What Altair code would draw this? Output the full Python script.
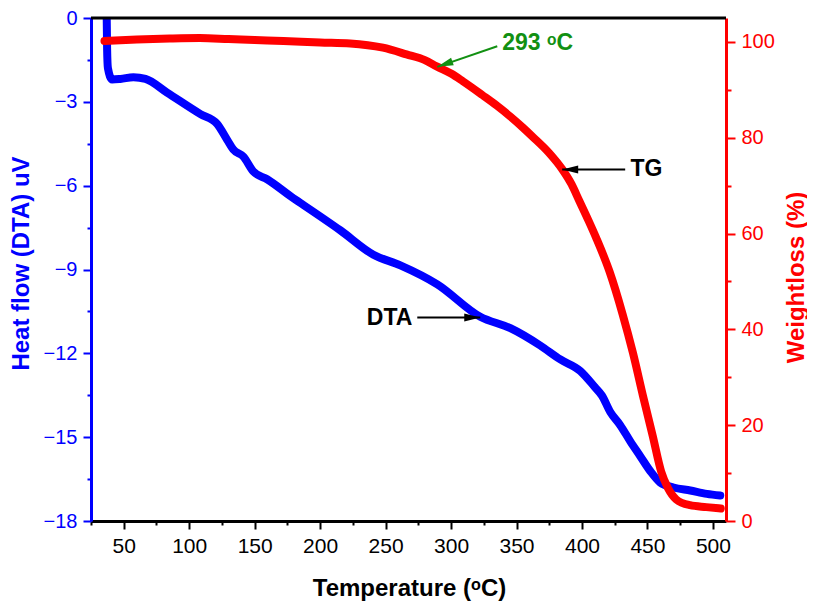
import altair as alt
import pandas as pd

# ---- DTA (heat flow) curve ----
dta_temp = [37.0, 37.3, 37.9, 41.1, 47.5, 57.4, 66.6, 83.1, 108.6, 121.3, 129.0, 133.7,
            141.4, 148.9, 159.5, 179.6, 185.0, 215.5, 240.7, 261.3, 289.5, 322.3, 345.3,
            368.1, 383.5, 398.7, 410.0, 415.2, 421.6, 429.2, 436.9, 444.5, 452.1, 459.7,
            469.9, 482.7, 495.4, 505.6]
dta_heat = [0.0, -1.09, -1.79, -2.20, -2.18, -2.12, -2.18, -2.67, -3.44, -3.79, -4.36, -4.71,
            -4.96, -5.49, -5.77, -6.45, -6.62, -7.60, -8.47, -8.85, -9.53, -10.69, -11.10,
            -11.72, -12.22, -12.63, -13.22, -13.51, -14.10, -14.57, -15.15, -15.68, -16.21, -16.62,
            -16.80, -16.91, -17.03, -17.09]

# ---- TG (weight) curve ----
tg_temp = [35.3, 60, 85, 108, 130, 150, 172, 200, 223, 248, 266, 280, 289, 300, 309, 324,
           335, 345, 355, 362, 375, 385, 392, 398, 405, 411, 421, 431, 439, 446.6, 454,
           460.5, 465.7, 472, 482.5, 495, 506]
tg_weight = [100.2, 100.5, 100.7, 100.8, 100.6, 100.4, 100.2, 99.9, 99.7, 98.8, 97.4, 96.2,
             94.9, 93.4, 91.8, 88.9, 86.7, 84.5, 82.1, 80.3, 76.8, 73.4, 70.3, 66.8, 62.7,
             59.0, 52.1, 43.2, 35.0, 26.1, 17.8, 10.3, 6.85, 4.5, 3.3, 2.9, 2.6]

# ---- axis tick values ----
x_major = list(range(50, 501, 50))
x_minor = list(range(25, 501, 50))
left_major = list(range(-18, 1, 3))
left_minor = [-16.5, -13.5, -10.5, -7.5, -4.5, -1.5]
right_major = list(range(0, 101, 20))
right_minor = list(range(10, 101, 20))

# ---- annotations (data units) ----
dta_note = {"label": "DTA", "tx": 270.5, "ty": -10.72, "x1": 274.2, "x2": 322.3, "y1": -10.72, "y2": -10.72}
tg_note = {"label": "TG", "tx": 437.0, "ty": 73.4, "x1": 433.0, "x2": 384.9, "y1": 73.4, "y2": 73.4}
temp_note = {"label": "293 \u1d52C", "tx": 339.1, "ty": 99.7, "x1": 335.3, "x2": 289.5, "y1": 99.1, "y2": 94.8}

W, H = 635, 503
BLUE, RED, GREEN = "#0000ff", "#ff0000", "#129012"
FONT = "Liberation Sans"
ARROW = "M0,0L0.5,2L-0.5,2Z"

xscale = alt.Scale(domain=[25, 510], nice=False, zero=False)
lscale = alt.Scale(domain=[-18, 0], nice=False, zero=False)
rscale = alt.Scale(domain=[0, 105], nice=False, zero=False)

xaxis = alt.Axis(
    orient="bottom", values=x_major, tickSize=8, tickWidth=2, tickColor="black",
    domainColor="black", domainWidth=3,
    labelFont=FONT, labelFontSize=21, labelColor="black", labelPadding=6,
    labelOverlap=False, labelFlush=False, grid=False,
    title="Temperature (\u1d52C)", titleFont=FONT, titleFontSize=24, titleFontWeight="bold",
    titleColor="black", titleX=318, titleY=74, titleBaseline="alphabetic", titleAlign="center")
xaxis_minor = alt.Axis(
    orient="bottom", values=x_minor, tickSize=4, tickWidth=2, tickColor="black",
    domain=False, labels=False, grid=False, title=None)

laxis = alt.Axis(
    orient="left", values=left_major, tickSize=8, tickWidth=2, tickColor=BLUE,
    domainColor=BLUE, domainWidth=3,
    labelFont=FONT, labelFontSize=20, labelColor=BLUE, labelPadding=6,
    labelOverlap=False, labelFlush=False, grid=False,
    title="Heat flow (DTA) uV", titleFont=FONT, titleFontSize=24, titleFontWeight="bold",
    titleColor=BLUE, titleAngle=270, titleX=-63, titleY=245, titleBaseline="alphabetic",
    titleAlign="center")
laxis_minor = alt.Axis(
    orient="left", values=left_minor, tickSize=4, tickWidth=2, tickColor=BLUE,
    domain=False, labels=False, grid=False, title=None)

raxis = alt.Axis(
    orient="right", values=right_major, tickSize=9, tickWidth=2, tickColor=RED,
    domainColor=RED, domainWidth=3,
    labelFont=FONT, labelFontSize=20, labelColor=RED, labelPadding=6,
    labelOverlap=False, labelFlush=False, grid=False,
    title="Weightloss (%)", titleFont=FONT, titleFontSize=24, titleFontWeight="bold",
    titleColor=RED, titleAngle=270, titleX=77, titleY=259, titleBaseline="alphabetic",
    titleAlign="center")
raxis_minor = alt.Axis(
    orient="right", values=right_minor, tickSize=5, tickWidth=2, tickColor=RED,
    domain=False, labels=False, grid=False, title=None)

dta_df = pd.DataFrame({"T": dta_temp, "v": dta_heat})
tg_df = pd.DataFrame({"T": tg_temp, "w": tg_weight})

LINE = dict(strokeWidth=8, strokeCap="round", strokeJoin="round", clip=True,
            interpolate="monotone")

dta_line = alt.Chart(dta_df).mark_line(color=BLUE, **LINE).encode(
    x=alt.X("T:Q", scale=xscale, axis=xaxis),
    y=alt.Y("v:Q", scale=lscale, axis=laxis),
    order="T:Q")

# invisible copies that only carry the minor tick axes
dta_minor = alt.Chart(dta_df).mark_line(opacity=0).encode(
    x=alt.X("T:Q", scale=xscale, axis=xaxis_minor),
    y=alt.Y("v:Q", scale=lscale, axis=laxis_minor),
    order="T:Q")
tg_minor = alt.Chart(tg_df).mark_line(opacity=0).encode(
    x=alt.X("T:Q", scale=xscale, axis=None),
    y=alt.Y("w:Q", scale=rscale, axis=raxis_minor),
    order="T:Q")

tg_line = alt.Chart(tg_df).mark_line(color=RED, **LINE).encode(
    x=alt.X("T:Q", scale=xscale, axis=None),
    y=alt.Y("w:Q", scale=rscale, axis=raxis),
    order="T:Q")


def arrow(note, yscale, color, angle, align):
    d = alt.Data(values=[note])
    rule = alt.Chart(d).mark_rule(color=color, strokeWidth=2).encode(
        x=alt.X("x1:Q", scale=xscale, axis=None), x2="x2:Q",
        y=alt.Y("y1:Q", scale=yscale, axis=None), y2="y2:Q")
    head = alt.Chart(d).mark_point(shape=ARROW, size=256, filled=True, color=color, opacity=1,
                                   angle=angle, strokeWidth=0).encode(
        x=alt.X("x2:Q", scale=xscale, axis=None),
        y=alt.Y("y2:Q", scale=yscale, axis=None))
    text = alt.Chart(d).mark_text(font=FONT, fontSize=23, fontWeight="bold", color=color,
                                  align=align, baseline="middle").encode(
        x=alt.X("tx:Q", scale=xscale, axis=None),
        y=alt.Y("ty:Q", scale=yscale, axis=None), text="label:N")
    return [rule, head, text]


frame = alt.Chart(alt.Data(values=[{}])).mark_rule(color="black", strokeWidth=3).encode(
    x=alt.value(0), x2=alt.value(W), y=alt.value(0))

chart = alt.layer(
    dta_minor, tg_minor, dta_line, tg_line,
    *arrow(dta_note, lscale, "black", 90, "right"),
    *arrow(tg_note, rscale, "black", 270, "left"),
    *arrow(temp_note, rscale, GREEN, 250.7, "left"),
    frame,
).resolve_scale(y="independent").resolve_axis(x="independent", y="independent").properties(
    width=W, height=H,
    padding={"left": 83, "top": 10, "right": 81, "bottom": 84},
    autosize=alt.AutoSizeParams(type="none"),
).configure_view(stroke=None)

chart.save("out.html", embed_options={"renderer": "svg", "actions": False})
